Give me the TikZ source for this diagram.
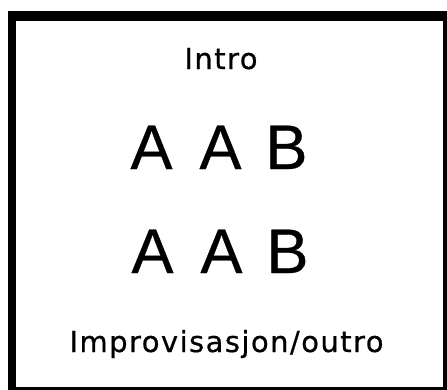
\documentclass[tikz,border=0pt]{standalone}
\usepackage{fontspec}
\setmainfont{DejaVu Sans}
\newfontfamily\bigfont[FakeBold=0.5]{Liberation Sans}
\newfontfamily\smallfont[LetterSpace=5,FakeBold=0.6]{DejaVu Sans}
\begin{document}
\begin{tikzpicture}[x=1pt,y=1pt,
  smalltxt/.style={inner sep=0pt,anchor=base,font=\smallfont\fontsize{29}{32}\selectfont},
  bigtxt/.style={inner sep=0pt,anchor=base,font=\bigfont\fontsize{63}{70}\selectfont}]
\useasboundingbox (0,0) rectangle (447,-389);
\fill[white] (0,0) rectangle (447,-389);
\begin{scope}
\clip (0,0) rectangle (447,-389);
\fill[black] (8,-11) rectangle (452,-394);
\fill[white] (16,-21) rectangle (443,-387);
\end{scope}
\node[smalltxt] (intro) at (221,-69) {Intro};
\node[bigtxt] (row1) at (219,-169) {A\hspace{27pt}A\hspace{24pt}B};
\node[bigtxt] (row2) at (220,-273) {A\hspace{27pt}A\hspace{24pt}B};
\node[smalltxt] (outro) at (226.5,-352) {Improvisasjon/outro};
\end{tikzpicture}
\end{document}
